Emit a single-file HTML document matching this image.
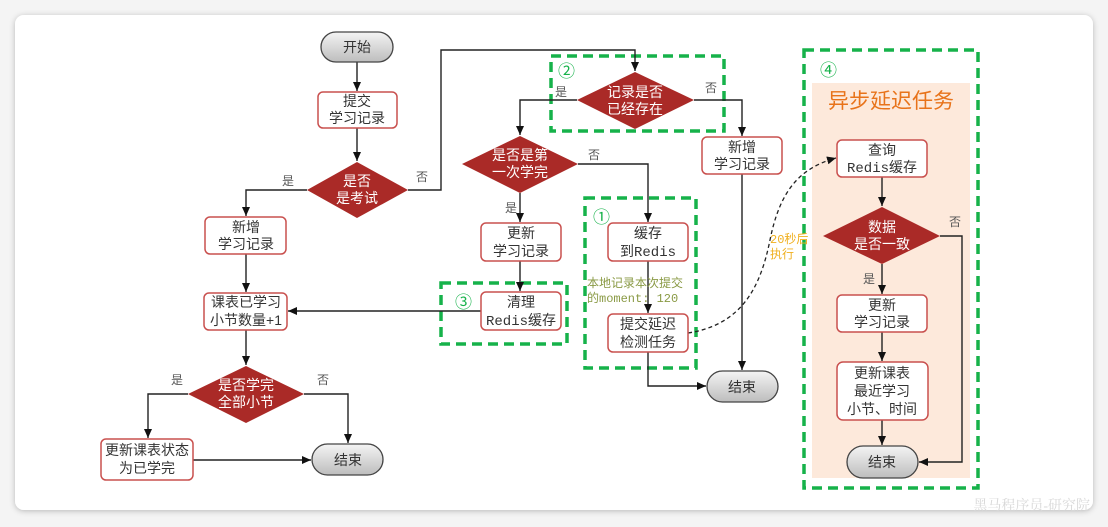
<!DOCTYPE html>
<html><head><meta charset="utf-8"><style>
html,body{margin:0;padding:0;background:#f4f4f4;}
svg{display:block;}
text{font-family:"Liberation Sans","Noto Sans CJK SC",sans-serif;}
.n{font-size:14px;fill:#333;text-anchor:middle;}
.m{font-family:"Liberation Mono","Noto Sans CJK SC",monospace;}
.w{font-size:14px;fill:#fff;text-anchor:middle;}
.l{font-size:12px;fill:#555;}
.box{fill:#fff;stroke:#c9504e;stroke-width:1.5;}
.dia{fill:#aa2a27;}
.ln{stroke:#222;stroke-width:1.4;fill:none;}
.g{fill:none;stroke:#16b24a;stroke-width:3.5;stroke-dasharray:10 6;}
.gt{font-size:17px;fill:#16b24a;}
</style></head><body>
<svg width="1108" height="527" viewBox="0 0 1108 527" xmlns="http://www.w3.org/2000/svg">
<defs>
<marker id="a" markerWidth="10" markerHeight="10" refX="9" refY="5" orient="auto" markerUnits="userSpaceOnUse"><path d="M0,1 L9,5 L0,9 z" fill="#111"/></marker>
<linearGradient id="tg" x1="0" y1="0" x2="0" y2="1"><stop offset="0" stop-color="#f4f4f4"/><stop offset="1" stop-color="#bdbdbd"/></linearGradient>
<filter id="sh" x="-5%" y="-5%" width="110%" height="110%"><feDropShadow dx="0" dy="1" stdDeviation="3" flood-color="#000" flood-opacity="0.25"/></filter>
</defs>
<rect x="15" y="15" width="1078" height="495" rx="9" fill="#fff" filter="url(#sh)"/>

<!-- right panel -->
<rect x="812" y="83" width="158" height="395" fill="#fde9db"/>
<rect x="804" y="50" width="174" height="438" class="g"/>
<text x="820" y="76" class="gt">④</text>
<text x="891" y="108" style="font-size:21px;fill:#e8731a;text-anchor:middle">异步延迟任务</text>

<!-- other green boxes -->
<rect x="551" y="56" width="173" height="75" class="g"/>
<text x="558" y="77" class="gt">②</text>
<rect x="441" y="283" width="126" height="61" class="g"/>
<text x="455" y="308" class="gt">③</text>
<rect x="585" y="198" width="111" height="170" class="g"/>
<text x="593" y="223" class="gt">①</text>

<!-- connectors -->
<path class="ln" d="M357,62 V91" marker-end="url(#a)"/>
<path class="ln" d="M357,128 V161" marker-end="url(#a)"/>
<path class="ln" d="M408,190 H441 V50 H635 V71" marker-end="url(#a)"/>
<path class="ln" d="M307,190 H246 V216" marker-end="url(#a)"/>
<path class="ln" d="M246,254 V292" marker-end="url(#a)"/>
<path class="ln" d="M246,330 V365" marker-end="url(#a)"/>
<path class="ln" d="M188,394 H148 V438" marker-end="url(#a)"/>
<path class="ln" d="M304,394 H348 V443" marker-end="url(#a)"/>
<path class="ln" d="M193,460 H311" marker-end="url(#a)"/>
<path class="ln" d="M577,100 H520 V135" marker-end="url(#a)"/>
<path class="ln" d="M694,100 H742 V136" marker-end="url(#a)"/>
<path class="ln" d="M742,174 V370" marker-end="url(#a)"/>
<path class="ln" d="M578,164 H648 V222" marker-end="url(#a)"/>
<path class="ln" d="M520,193 V222" marker-end="url(#a)"/>
<path class="ln" d="M520,261 V291" marker-end="url(#a)"/>
<path class="ln" d="M481,311 H288" marker-end="url(#a)"/>
<path class="ln" d="M648,261 V313" marker-end="url(#a)"/>
<path class="ln" d="M648,352 V386 H706" marker-end="url(#a)"/>
<path d="M688,333 C740,325 760,290 770,240 C780,190 800,168 836,158" fill="none" stroke="#222" stroke-width="1.3" stroke-dasharray="4 3" marker-end="url(#a)"/>
<path class="ln" d="M882,177 V206" marker-end="url(#a)"/>
<path class="ln" d="M882,264 V294" marker-end="url(#a)"/>
<path class="ln" d="M882,332 V361" marker-end="url(#a)"/>
<path class="ln" d="M882,420 V445" marker-end="url(#a)"/>
<path class="ln" d="M940,236 H962 V462 H919" marker-end="url(#a)"/>

<!-- labels -->
<text x="282" y="185" class="l">是</text>
<text x="416" y="181" class="l">否</text>
<text x="555" y="96" class="l">是</text>
<text x="705" y="92" class="l">否</text>
<text x="588" y="159" class="l">否</text>
<text x="505" y="212" class="l">是</text>
<text x="171" y="384" class="l">是</text>
<text x="317" y="384" class="l">否</text>
<text x="949" y="226" class="l">否</text>
<text x="863" y="283" class="l">是</text>
<text x="587" y="287" class="m" style="font-size:12px;fill:#8a9a45">本地记录本次提交</text>
<text x="587" y="302" class="m" style="font-size:12px;fill:#8a9a45">的moment: 120</text>
<text x="770" y="243" class="m" style="font-size:12px;fill:#f0b020">20秒后</text>
<text x="770" y="258" class="m" style="font-size:12px;fill:#f0b020">执行</text>

<!-- terminals -->
<rect x="321" y="32" width="72" height="30" rx="15" fill="url(#tg)" stroke="#444" stroke-width="1.3"/>
<text x="357" y="52" class="n">开始</text>
<rect x="312" y="444" width="71" height="31" rx="15.5" fill="url(#tg)" stroke="#444" stroke-width="1.3"/>
<text x="348" y="465" class="n">结束</text>
<rect x="707" y="371" width="71" height="31" rx="15.5" fill="url(#tg)" stroke="#444" stroke-width="1.3"/>
<text x="742" y="392" class="n">结束</text>
<rect x="847" y="446" width="71" height="32" rx="16" fill="url(#tg)" stroke="#444" stroke-width="1.3"/>
<text x="882" y="467" class="n">结束</text>

<!-- boxes -->
<rect x="318" y="92" width="79" height="36" rx="5" class="box"/>
<text x="357" y="106" class="n">提交</text><text x="357" y="123" class="n">学习记录</text>
<rect x="205" y="217" width="81" height="37" rx="5" class="box"/>
<text x="246" y="232" class="n">新增</text><text x="246" y="249" class="n">学习记录</text>
<rect x="204" y="293" width="83" height="37" rx="5" class="box"/>
<text x="246" y="307" class="n">课表已学习</text><text x="246" y="325" class="n">小节数量+1</text>
<rect x="101" y="439" width="92" height="41" rx="5" class="box"/>
<text x="147" y="455" class="n">更新课表状态</text><text x="147" y="473" class="n">为已学完</text>
<rect x="702" y="137" width="80" height="37" rx="5" class="box"/>
<text x="742" y="152" class="n">新增</text><text x="742" y="169" class="n">学习记录</text>
<rect x="481" y="223" width="80" height="38" rx="5" class="box"/>
<text x="521" y="238" class="n">更新</text><text x="521" y="256" class="n">学习记录</text>
<rect x="481" y="292" width="80" height="38" rx="5" class="box"/>
<text x="521" y="307" class="n">清理</text><text x="521" y="325" class="n m">Redis缓存</text>
<rect x="608" y="223" width="80" height="38" rx="5" class="box"/>
<text x="648" y="238" class="n">缓存</text><text x="648" y="256" class="n m">到Redis</text>
<rect x="608" y="314" width="80" height="38" rx="5" class="box"/>
<text x="648" y="329" class="n">提交延迟</text><text x="648" y="347" class="n">检测任务</text>
<rect x="837" y="140" width="90" height="37" rx="5" class="box"/>
<text x="882" y="155" class="n">查询</text><text x="882" y="172" class="n m">Redis缓存</text>
<rect x="837" y="295" width="90" height="37" rx="5" class="box"/>
<text x="882" y="310" class="n">更新</text><text x="882" y="327" class="n">学习记录</text>
<rect x="837" y="362" width="91" height="58" rx="6" class="box"/>
<text x="882" y="378" class="n">更新课表</text><text x="882" y="396" class="n">最近学习</text><text x="882" y="414" class="n">小节、时间</text>

<!-- diamonds -->
<polygon points="357,162 408,190 357,218 307,190" class="dia"/>
<text x="357" y="186" class="w">是否</text><text x="357" y="203" class="w">是考试</text>
<polygon points="635,72 694,100 635,129 577,100" class="dia"/>
<text x="635" y="97" class="w">记录是否</text><text x="635" y="114" class="w">已经存在</text>
<polygon points="520,136 578,164 520,193 462,164" class="dia"/>
<text x="520" y="160" class="w">是否是第</text><text x="520" y="177" class="w">一次学完</text>
<polygon points="246,366 304,394 246,423 188,394" class="dia"/>
<text x="246" y="390" class="w">是否学完</text><text x="246" y="407" class="w">全部小节</text>
<polygon points="882,207 940,236 882,264 823,236" class="dia"/>
<text x="882" y="232" class="w">数据</text><text x="882" y="249" class="w">是否一致</text>

<text x="1090" y="510" style="font-size:14px;fill:#d8d8d8;text-anchor:end;font-family:'Liberation Serif','Noto Serif CJK SC',serif">黑马程序员-研究院</text>
</svg>
</body></html>
